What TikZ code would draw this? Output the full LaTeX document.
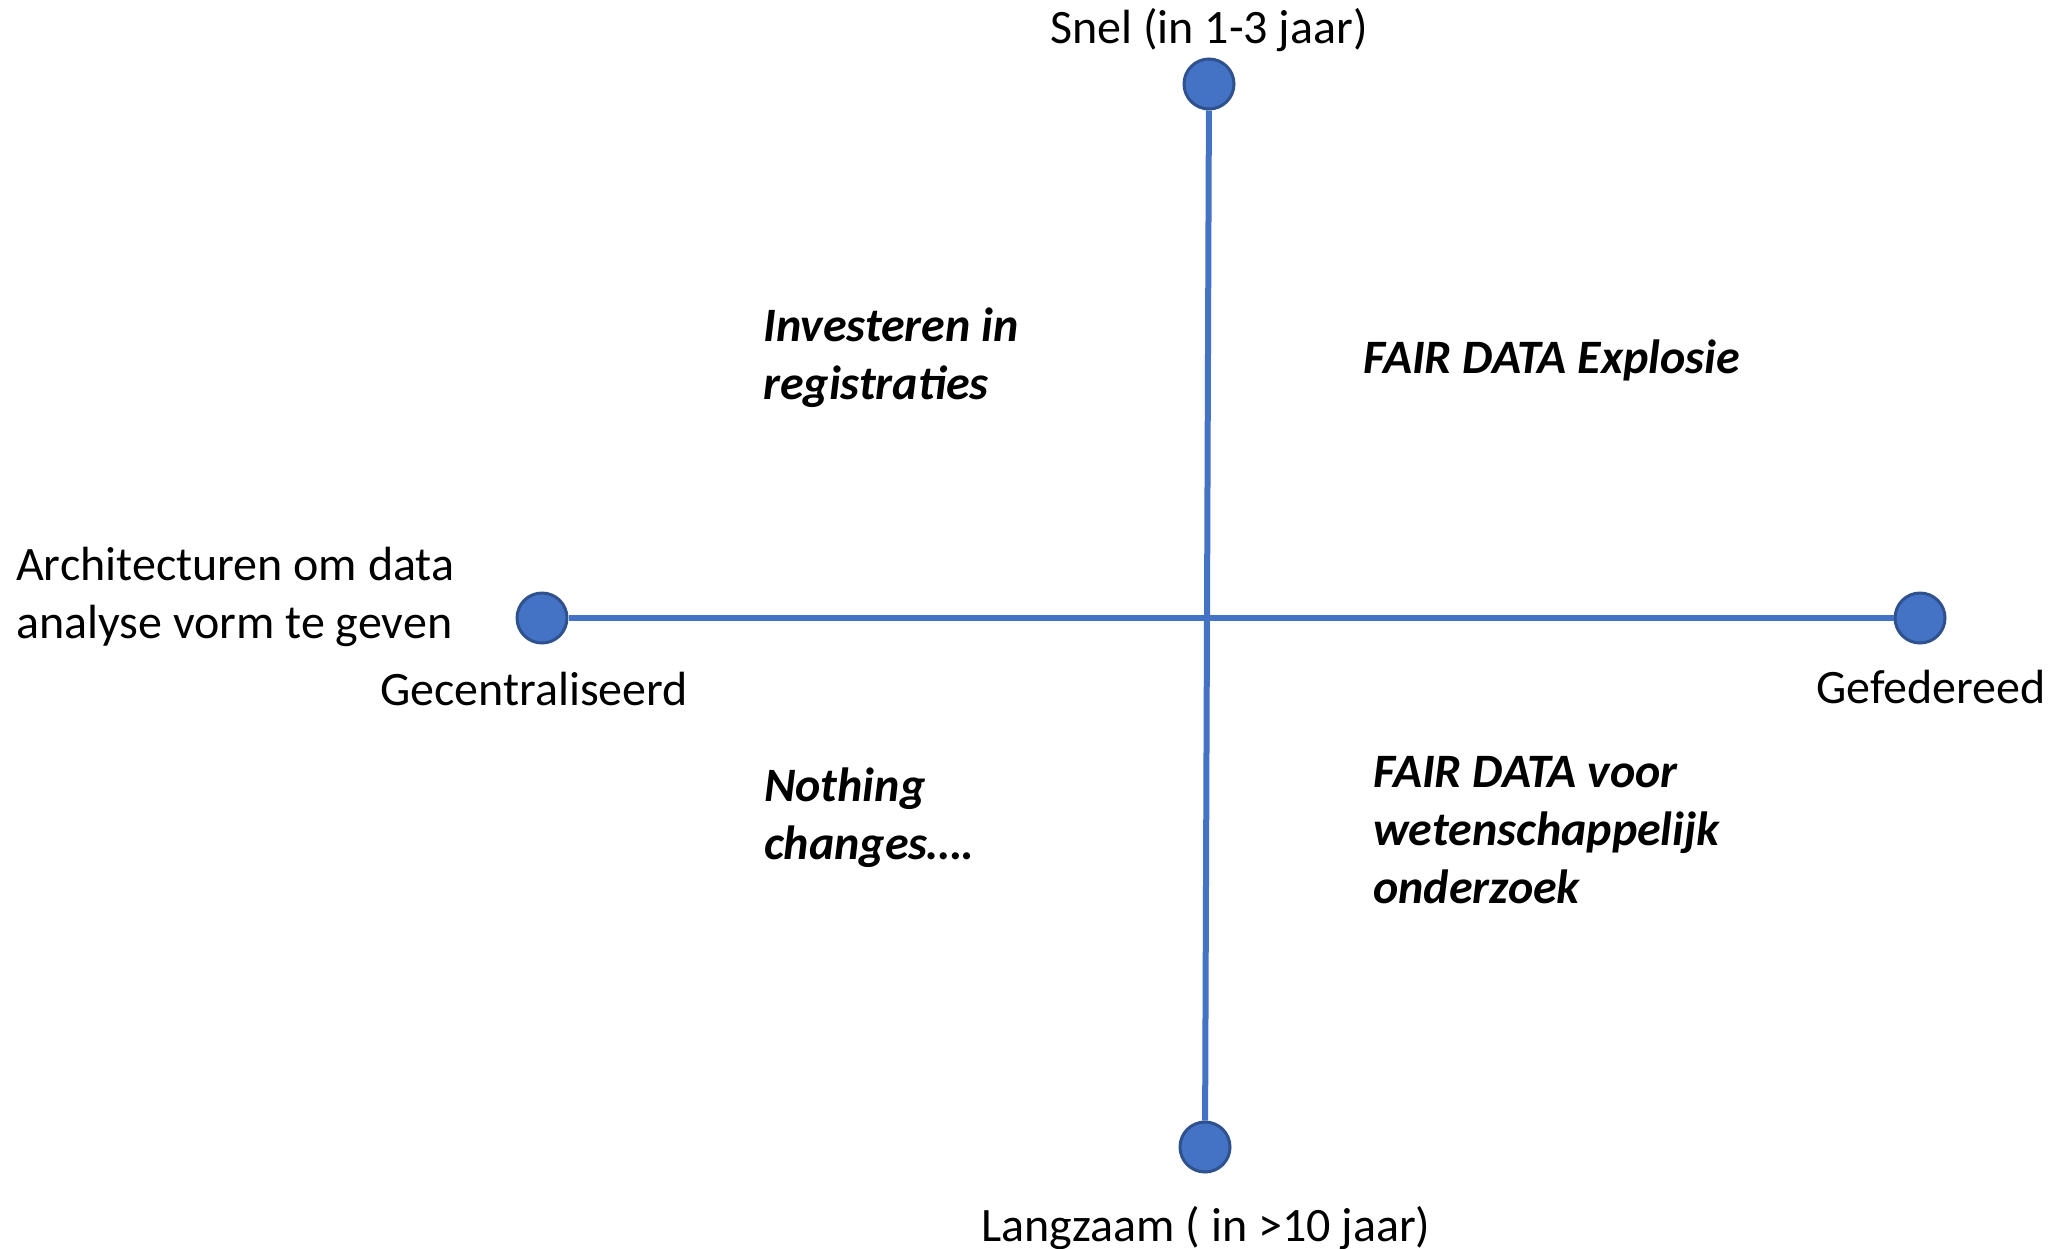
\documentclass[tikz,border=0pt]{standalone}
\usepackage{fontspec}
\setmainfont{Carlito}
\definecolor{axisblue}{HTML}{4472C4}
\definecolor{dotedge}{HTML}{2F528F}
\begin{document}
\begin{tikzpicture}[x=1pt,y=-1pt,
  axisline/.style={draw=axisblue,line width=6pt},
  enddot/.style={circle,fill=axisblue,draw=dotedge,line width=3pt,minimum size=50pt,inner sep=0pt},
  lbl/.style={inner sep=0pt,font=\fontsize{48}{58}\selectfont},
  quad/.style={inner sep=0pt,align=left,anchor=west,font=\fontsize{48}{58}\selectfont\bfseries\itshape}]
\useasboundingbox[fill=white] (0,0) rectangle (2049,1248);
\node[enddot] (top) at (1209,84) {};
\node[enddot] (bot) at (1205,1147) {};
\node[enddot] (left) at (542,618) {};
\node[enddot] (right) at (1920,618) {};
\draw[axisline] (left) -- (right);
\draw[axisline] (top) -- (bot);
\node[lbl] (snel) at (1209,30) {Snel (in 1-3 jaar)};
\node[lbl] (lang) at (1206,1228) {Langzaam ( in >10 jaar)};
\node[lbl] (gec) at (534,689) {Gecentraliseerd};
\node[lbl] (gef) at (1931,687) {Gefedereed};
\node[lbl,align=left,anchor=west] (arch) at (16,597) {Architecturen om data\\analyse vorm te geven};
\node[quad] (inv) at (763,358) {Investeren in\\registraties};
\node[quad] (expl) at (1363,360) {FAIR DATA Explosie};
\node[quad] (noth) at (764,818) {Nothing\\changes….};
\node[quad] (wet) at (1373,830) {FAIR DATA voor\\wetenschappelijk\\onderzoek};
\end{tikzpicture}
\end{document}
